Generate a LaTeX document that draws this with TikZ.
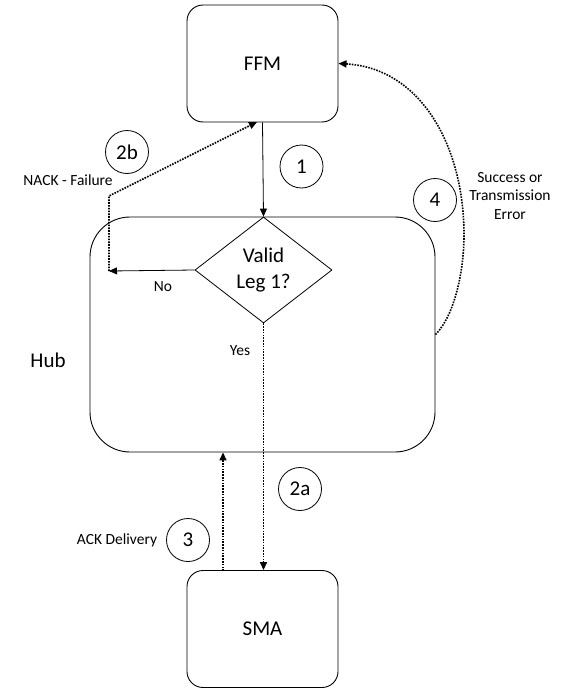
\documentclass[tikz,border=0pt]{standalone}
\usepackage{fontspec}
\setmainfont{Carlito}
\usetikzlibrary{arrows.meta,shapes.geometric}
\begin{document}
\begin{tikzpicture}[x=1pt,y=-1pt,
  big/.style={font=\fontsize{21}{26}\selectfont},
  small/.style={font=\fontsize{15.5}{18.5}\selectfont},
  box/.style={draw, line width=0.9pt, rounded corners=16pt, minimum width=151pt, minimum height=117pt, big},
  num/.style={draw, circle, line width=0.8pt, minimum size=43pt, inner sep=0pt, big},
  solidarrow/.style={line width=0.8pt, -{Triangle[length=8pt,width=7pt]}},
  dotarrow/.style={line width=1.6pt, dash pattern=on 1.6pt off 1.2pt, -{Triangle[length=8pt,width=7pt]}},
  dotline/.style={line width=1.6pt, dash pattern=on 1.6pt off 1.2pt}]
\useasboundingbox (0,0) rectangle (561,688);
% boxes
\node[box] (ffm) at (262.5,63.5) {FFM};
\node[box] (sma) at (262.5,629) {SMA};
\node[draw, line width=0.9pt, rounded corners=40pt, minimum width=345pt, minimum height=235pt] (hub) at (262.5,334.5) {};
\node[big] (hubtext) at (48,360) {Hub};
\node[draw, diamond, line width=0.8pt, minimum width=137pt, minimum height=106pt, inner sep=0pt, align=center, big] (valid) at (263.5,270) {Valid\\Leg 1?};
% step circles
\node[num] (c1) at (301.5,166.5) {1};
\node[num] (c2b) at (127,152) {2b};
\node[num] (c2a) at (300,489) {2a};
\node[num] (c3) at (188,540) {3};
\node[num] (c4) at (435,200) {4};
% labels
\node[small] (nack) at (68,180) {NACK - Failure};
\node[small] (no) at (163,287) {No};
\node[small] (yes) at (240,351) {Yes};
\node[small] (ack) at (117,540) {ACK Delivery};
\node[small, align=center] (succ) at (510,196) {Success or\\Transmission\\Error};
% connectors
\coordinate (noend) at (109,271);
\coordinate (nackbend) at (109,196);
\coordinate (ffmnack) at (257,122);
\draw[solidarrow] (ffm.south) -- (valid.north);
\draw[solidarrow] (valid.west) -- (noend);
\draw[dotarrow] (noend) -- (nackbend) -- (ffmnack);
\draw[dotarrow] (valid.south) -- (valid.south |- sma.north);
\coordinate (smaack) at (223,571);
\draw[dotarrow] (smaack) -- (smaack |- hub.south);
\coordinate (c4mid) at (464,235);
\draw[dotarrow] (hub.east) .. controls (455,315) and (464,270) .. (c4mid)
  .. controls (464,145) and (420,68) .. (ffm.east);
\end{tikzpicture}
\end{document}
